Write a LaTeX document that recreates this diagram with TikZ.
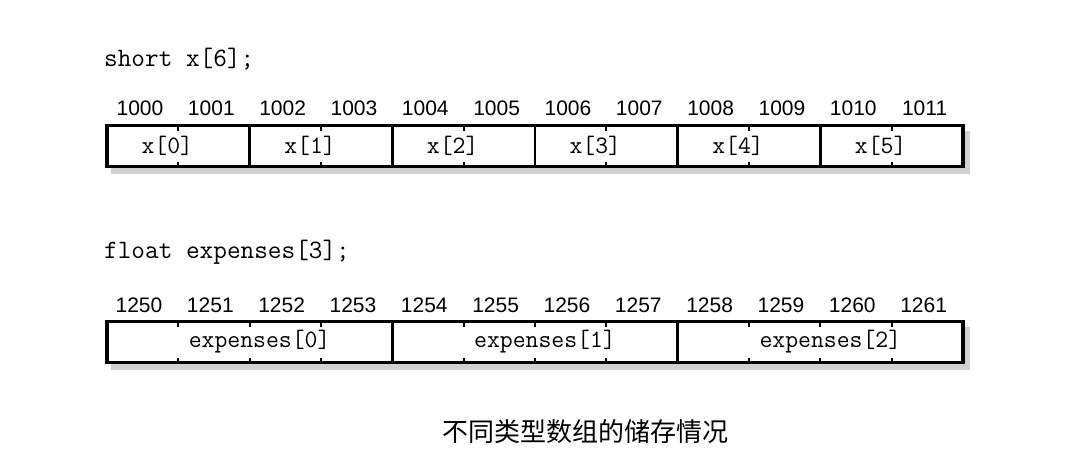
\documentclass[tikz,border=0pt]{standalone}
\usepackage{fontspec}
\setsansfont{Liberation Sans}
\setmonofont{Latin Modern Mono}
\newfontfamily\cjkfont{Noto Sans CJK SC}
\usetikzlibrary{positioning}

\tikzset{
  code/.style={font=\fontsize{26.5}{26.5}\selectfont\ttfamily, inner sep=0pt, anchor=base west},
  addr/.style={font=\fontsize{21}{21}\selectfont\sffamily, inner sep=0pt, anchor=base},
  cellbox/.style={draw, fill=white, line width=2.4pt, minimum height=41pt, inner sep=0pt, outer sep=0pt},
  cellval/.style={font=\fontsize{25}{25}\selectfont\ttfamily, inner sep=0pt},
  boxedge/.style={line width=3.2pt},
  tick/.style={line width=2.2pt},
  shade/.style={fill=black!18}
}

\begin{document}
\begin{tikzpicture}[x=1pt,y=-1pt]
  \useasboundingbox[fill=white] (0,0) rectangle (1080,466);

  % short x[6]
  \node[code] (decl1) at (104,66) {short x[6];};
  \fill[shade] (111,131) rectangle (970,174);
  \foreach \i in {0,...,5}
    \node[cellbox, minimum width=142.67pt] (x\i) at ({107+142.67*(\i+0.5)},146) {};
  \foreach \i in {0,...,5}
    \node[cellval, xshift=-11pt] (xv\i) at (x\i) {x[\i]};
  \draw[boxedge] (x0.north west) rectangle (x5.south east);
  \foreach \i in {0,...,5} {
    \draw[tick] (x\i.north) -- ++(0,5);
    \draw[tick] (x\i.south) -- ++(0,-5);
  }
  \foreach \k in {0,...,11} {
    \pgfmathtruncatemacro\a{1000+\k}
    \node[addr] (a\a) at ({107+71.33*\k+33},115) {\a};
  }

  % float expenses[3]
  \node[code] (decl2) at (104,258) {float expenses[3];};
  \fill[shade] (111,327) rectangle (970,370);
  \foreach \i in {0,...,2}
    \node[cellbox, minimum width=285.33pt] (e\i) at ({107+285.33*(\i+0.5)},342) {};
  \foreach \i in {0,...,2}
    \node[cellval, xshift=10pt] (ev\i) at (e\i) {expenses[\i]};
  \draw[boxedge] (e0.north west) rectangle (e2.south east);
  \foreach \i in {0,...,2}
    \foreach \d in {-71.33,0,71.33} {
      \draw[tick] ([xshift=\d pt]e\i.north) -- ++(0,5);
      \draw[tick] ([xshift=\d pt]e\i.south) -- ++(0,-5);
    }
  \foreach \k in {0,...,11} {
    \pgfmathtruncatemacro\a{1250+\k}
    \node[addr] (b\a) at ({107+71.33*\k+32},312) {\a};
  }

  % caption
  \node[font=\fontsize{26}{26}\selectfont\cjkfont, inner sep=0pt] (cap) at (585,432) {不同类型数组的储存情况};
\end{tikzpicture}
\end{document}
